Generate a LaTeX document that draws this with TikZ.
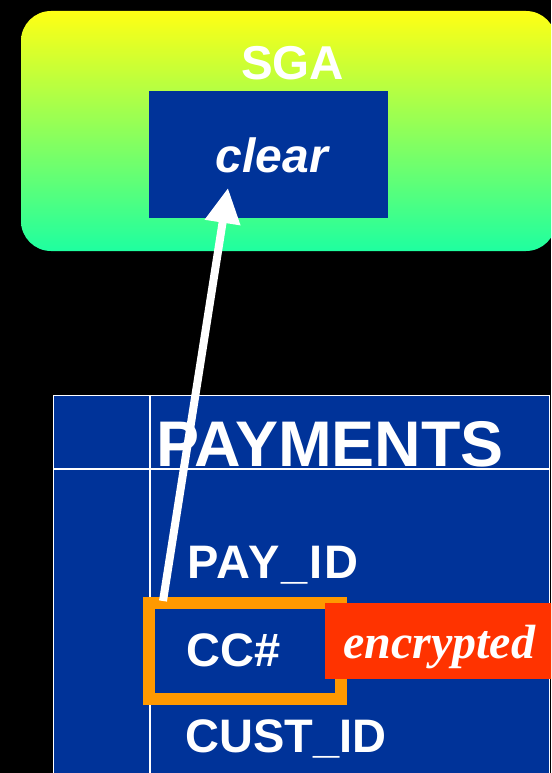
\documentclass[tikz,border=0pt]{standalone}
\usepackage{fontspec}
\setmainfont{Liberation Sans}
\newfontfamily\serifbi{Liberation Serif}
\usetikzlibrary{arrows.meta}
\definecolor{dbblue}{RGB}{0,51,153}
\definecolor{encred}{RGB}{255,51,0}
\definecolor{hlorange}{RGB}{255,153,0}
\definecolor{sgatop}{RGB}{255,255,20}
\definecolor{sgabot}{RGB}{30,255,160}
\tikzset{
  lbl/.style={text=white,font=\bfseries\fontsize{47}{56}\selectfont,inner sep=0pt,anchor=base west},
  gridline/.style={draw=white,line width=1.2pt},
}
\begin{document}
\begin{tikzpicture}[x=1pt,y=-1pt]
\useasboundingbox (0,0) rectangle (551,773);
\fill[black] (0,0) rectangle (551,773);
\clip (0,0) rectangle (551,773);
% SGA region
\shade[top color=sgatop,bottom color=sgabot,rounded corners=30pt] (21,11) rectangle (556,251);
\node[text=white,font=\bfseries\fontsize{47.5}{56}\selectfont,inner sep=0pt,anchor=base] (sga) at (292.5,80) {SGA};
\node[fill=dbblue,minimum width=239pt,minimum height=127pt,inner sep=0pt] (clearbox) at (268.5,154.5) {};
\node[text=white,font=\bfseries\itshape\fontsize{48}{56}\selectfont,inner sep=0pt,anchor=base] (clear) at (272,172) {clear};
% table
\node[fill=dbblue,draw=white,line width=1.2pt,minimum width=496pt,minimum height=400pt,inner sep=0pt,anchor=north west] (tbl) at (53,395) {};
\draw[gridline] (150,395) -- (150,780);
\draw[gridline] (53,469) -- (549,469);
\node[text=white,font=\bfseries\fontsize{64.5}{70}\selectfont,inner sep=0pt,anchor=base west] (payments) at (156,466) {PAYMENTS};
\node[lbl,font=\bfseries\fontsize{47}{56}\selectfont\addfontfeature{LetterSpace=4}] (payid) at (187,578) {PAY\_ID};
\node[draw=hlorange,line width=12pt,minimum width=192pt,minimum height=96pt,inner sep=0pt] (ccbox) at (245,651) {};
\node[lbl] (cc) at (186,666) {CC\#};
\node[lbl] (custid) at (185,752) {CUST\_ID};
\node[fill=encred,minimum width=240pt,minimum height=76pt,inner sep=0pt,anchor=north west] (enc) at (325,603) {};
\node[text=white,font=\serifbi\bfseries\itshape\fontsize{48}{56}\selectfont,inner sep=0pt,anchor=base west] (enctext) at (343,658) {encrypted};
% arrow
\coordinate (tail) at (163,601);
\coordinate (tip) at (228,188);
\draw[white,line width=8pt,-{Triangle[width=34pt,length=35pt]}] (tail) -- (tip);
\end{tikzpicture}
\end{document}
